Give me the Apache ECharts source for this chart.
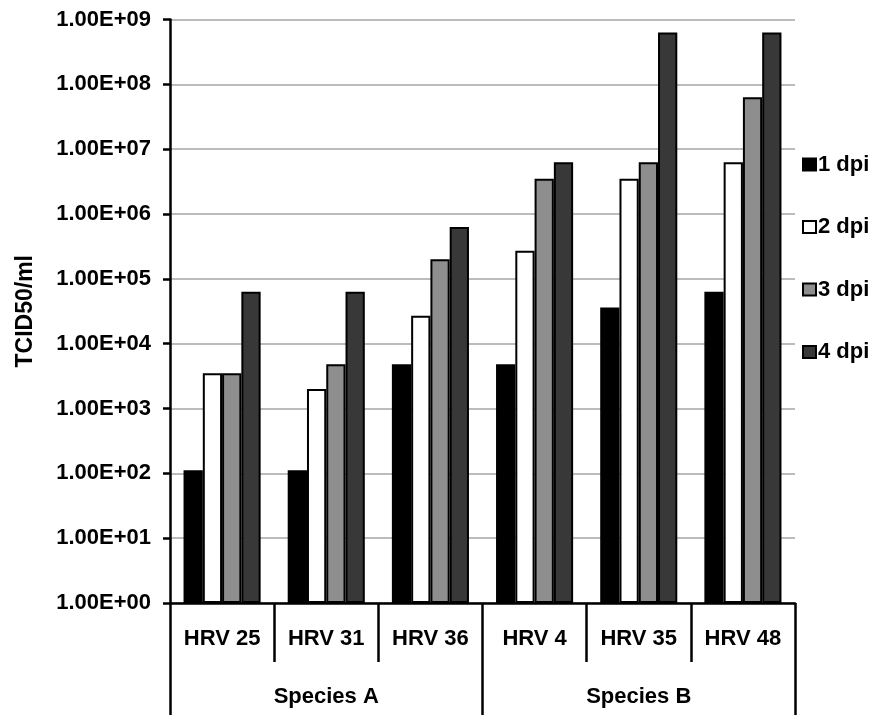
<!DOCTYPE html>
<html>
<head>
<meta charset="utf-8">
<script src="https://cdn.jsdelivr.net/npm/echarts@6/dist/echarts.min.js"></script>
<style>html,body{margin:0;padding:0;background:#fff}#c{width:870px;height:715px}</style>
</head>
<body>
<div id="c"></div>
<script>
const categories = ['HRV 25', 'HRV 31', 'HRV 36', 'HRV 4', 'HRV 35', 'HRV 48'];
const groups = ['Species A', 'Species B'];
const seriesNames = ['1 dpi', '2 dpi', '3 dpi', '4 dpi'];
const dpi1 = [1.12e2, 1.12e2, 4.8e3, 4.8e3, 3.6e4, 6.3e4];
const dpi2 = [3.5e3, 2.0e3, 2.7e4, 2.7e5, 3.5e6, 6.3e6];
const dpi3 = [3.5e3, 4.8e3, 2.0e5, 3.5e6, 6.3e6, 6.3e7];
const dpi4 = [6.3e4, 6.3e4, 6.3e5, 6.3e6, 6.3e8, 6.3e8];
const yTicks = ['1.00E+00','1.00E+01','1.00E+02','1.00E+03','1.00E+04','1.00E+05','1.00E+06','1.00E+07','1.00E+08','1.00E+09'];
const colors = ['#000000', '#ffffff', '#8e8e8e', '#383838'];

const values = [dpi1, dpi2, dpi3, dpi4];
const FONT = 'Liberation Sans, Arial, sans-serif';
const chart = echarts.init(document.getElementById('c'), null, {renderer: 'canvas'});
chart.setOption({
  animation: false,
  backgroundColor: '#ffffff',
  grid: {left: 170, right: 75, top: 19.5, bottom: 112, containLabel: false},
  legend: {
    orient: 'vertical', left: 797, top: 148.5,
    itemWidth: 13, itemHeight: 12, itemGap: 40.5, icon: 'rect',
    data: seriesNames,
    textStyle: {fontFamily: FONT, fontWeight: 'bold', fontSize: 22, color: '#000', lineHeight: 17, padding: [0,0,0,-3]}
  },
  xAxis: [
    {
      type: 'category', data: categories, position: 'bottom',
      axisLine: {show: true, lineStyle: {color: '#000', width: 2.5}},
      axisTick: {show: true, interval: 0, length: 59, lineStyle: {color: '#000', width: 2.5}, alignWithLabel: false},
      axisLabel: {margin: 25, fontFamily: FONT, fontWeight: 'bold', fontSize: 22, color: '#000'},
      splitLine: {show: false}
    },
    {
      type: 'category', data: groups, position: 'bottom', offset: 0,
      axisLine: {show: false},
      axisTick: {show: true, interval: 0, length: 115, lineStyle: {color: '#000', width: 2.5}},
      axisLabel: {margin: 83, fontFamily: FONT, fontWeight: 'bold', fontSize: 22, color: '#000'},
      splitLine: {show: false}
    }
  ],
  yAxis: {
    type: 'log', logBase: 10, min: 1, max: 1e9, interval: 1,
    name: 'TCID50/ml', nameLocation: 'middle', nameGap: 133, nameRotate: 90,
    nameTextStyle: {fontFamily: FONT, fontWeight: 'bold', fontSize: 23, color: '#000'},
    axisLine: {show: true, lineStyle: {color: '#000', width: 2.5}},
    axisTick: {show: true, length: 7, lineStyle: {color: '#000', width: 2.5}},
    axisLabel: {
      margin: 19, fontFamily: FONT, fontWeight: 'bold', fontSize: 22, color: '#000',
      formatter: function (v) {
        const e = Math.round(Math.log10(v));
        return yTicks[e] !== undefined ? yTicks[e] : '';
      }
    },
    splitLine: {show: true, lineStyle: {color: '#a6a6a6', width: 1.5}}
  },
  series: seriesNames.map((name, i) => ({
    name: name, type: 'bar', xAxisIndex: 0, data: values[i],
    barGap: '0%', barCategoryGap: '26%',
    itemStyle: {color: colors[i], borderColor: '#000', borderWidth: 2}
  }))
});
</script>
</body>
</html>
